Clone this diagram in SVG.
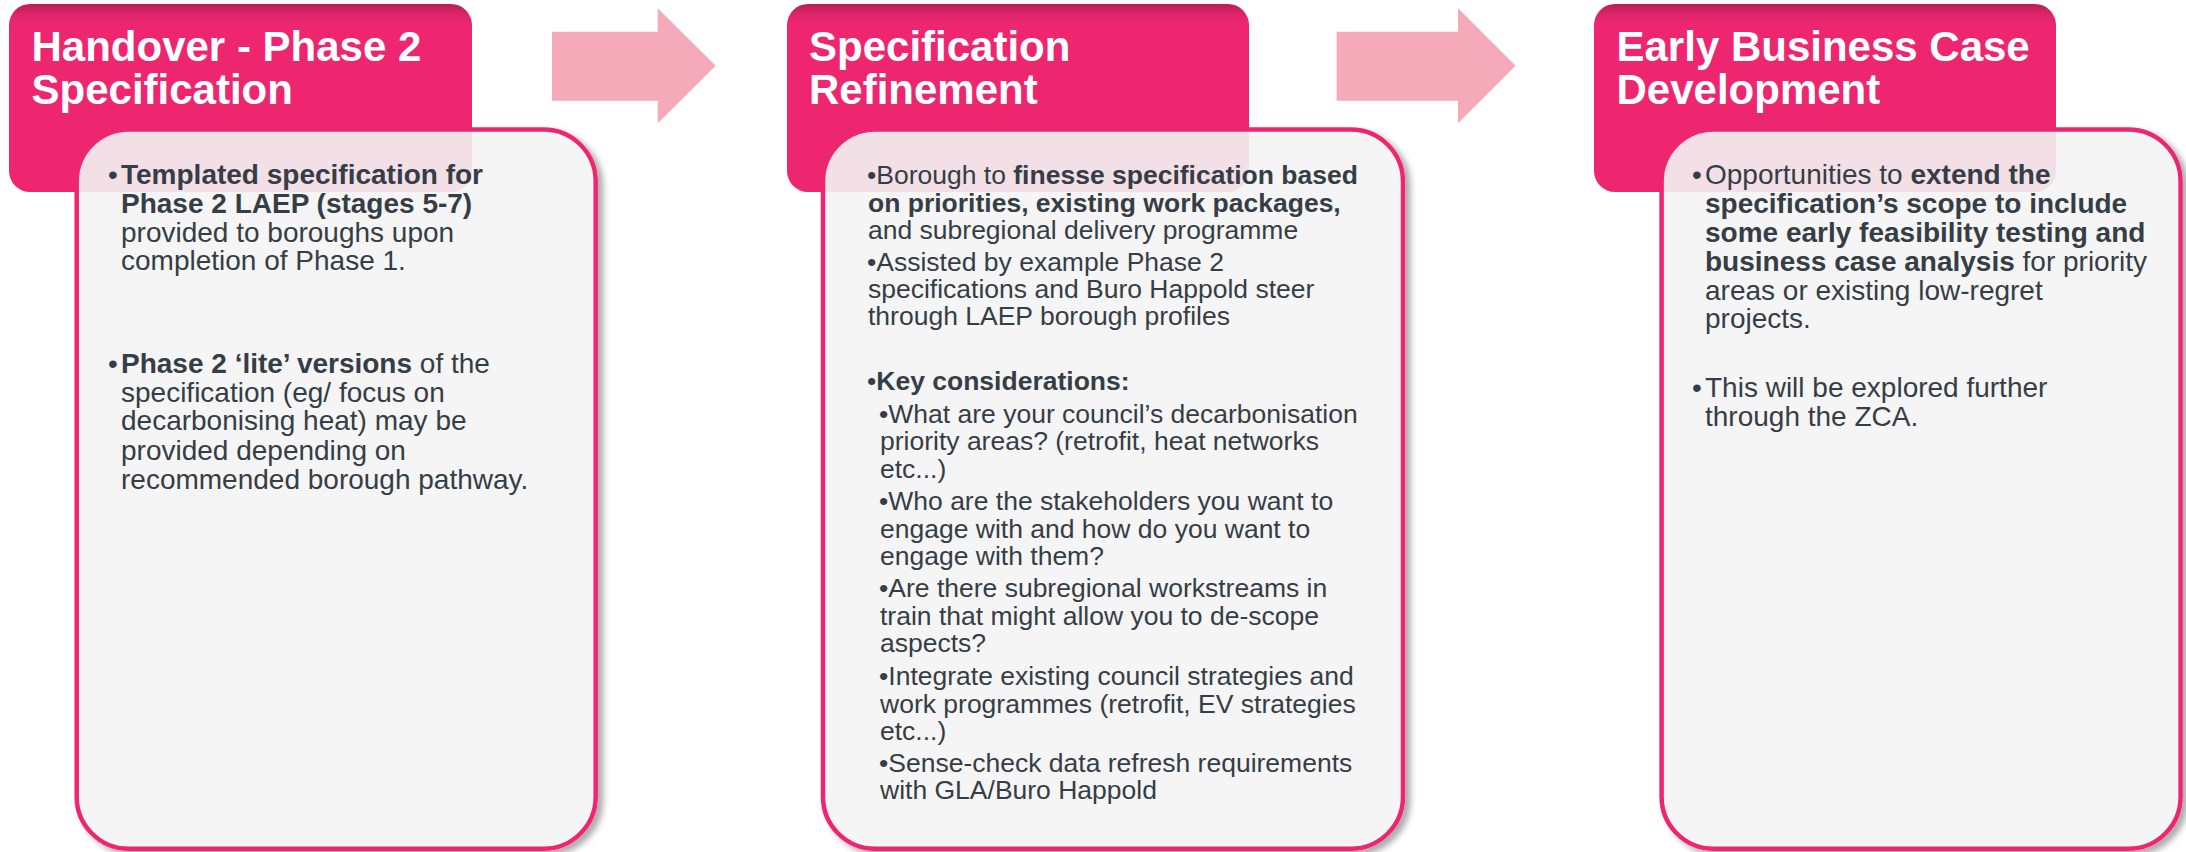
<svg xmlns="http://www.w3.org/2000/svg" width="2186" height="852" viewBox="0 0 2186 852">
<defs>
<linearGradient id="hdrGrad" x1="0" y1="0" x2="0" y2="1">
<stop offset="0" stop-color="#B91D58"/>
<stop offset="0.06" stop-color="#E2246B"/>
<stop offset="0.12" stop-color="#EE2670"/>
<stop offset="1" stop-color="#EE2670"/>
</linearGradient>
<filter id="boxShadow" x="-5%" y="-5%" width="115%" height="115%">
<feGaussianBlur in="SourceAlpha" stdDeviation="3" result="blur"/>
<feOffset in="blur" dx="5" dy="4" result="off"/>
<feFlood flood-color="#000000" flood-opacity="0.35" result="col"/>
<feComposite in="col" in2="off" operator="in" result="sh"/>
<feComposite in="sh" in2="SourceAlpha" operator="out" result="shOut"/>
<feMerge><feMergeNode in="shOut"/><feMergeNode in="SourceGraphic"/></feMerge>
</filter>
<style>
.hdr{fill:url(#hdrGrad);}
.box{fill:#F4F4F4;fill-opacity:0.9;stroke:#EE2670;stroke-width:4.5;}
.arrow{fill:#F4AAB9;}
.title{font-family:"Liberation Sans",Arial,sans-serif;font-weight:bold;font-size:42px;fill:#FFFFFF;}
.body{font-family:"Liberation Sans",Arial,sans-serif;fill:#353D45;}
.s28{font-size:28px;}
.s26{font-size:26.5px;}
.b{font-weight:bold;}
</style>
</defs>

<g id="connectors">
<polygon class="arrow" points="552,31.7 657.7,31.7 657.7,8.3 715.7,65.7 657.7,123.3 657.7,100.7 552,100.7"/>
<polygon class="arrow" points="1336.6,31.7 1458,31.7 1458,8.3 1515.6,65.7 1458,123.3 1458,100.7 1336.6,100.7"/>
</g>

<g id="node-handover">
<rect class="hdr" x="9" y="4" width="463" height="188" rx="21" ry="21"/>
<text class="title"><tspan x="31.5" y="61">Handover - Phase 2</tspan><tspan x="31.5" y="104">Specification</tspan></text>
<rect class="box" x="76.7" y="129.5" width="519" height="719.2" rx="52" ry="52" filter="url(#boxShadow)"/>
<g class="body s28">
<text x="108" y="184">•</text>
<text x="121" y="184" class="b">Templated specification for</text>
<text x="121" y="213" class="b">Phase 2 LAEP (stages 5-7)</text>
<text x="121" y="242">provided to boroughs upon</text>
<text x="121" y="270">completion of Phase 1.</text>
<text x="108" y="373">•</text>
<text x="121" y="373"><tspan class="b">Phase 2 ‘lite’ versions</tspan> of the</text>
<text x="121" y="402">specification (eg/ focus on</text>
<text x="121" y="430">decarbonising heat) may be</text>
<text x="121" y="460">provided depending on</text>
<text x="121" y="489">recommended borough pathway.</text>
</g>
</g>

<g id="node-refinement">
<rect class="hdr" x="787" y="4" width="462" height="188" rx="21" ry="21"/>
<text class="title"><tspan x="809" y="61">Specification</tspan><tspan x="809" y="104">Refinement</tspan></text>
<rect class="box" x="823" y="129.5" width="580" height="719.2" rx="52" ry="52" filter="url(#boxShadow)"/>
<g class="body s26">
<text x="867" y="184">•Borough to <tspan class="b">finesse specification based</tspan></text>
<text x="868" y="212" class="b">on priorities, existing work packages,</text>
<text x="868" y="239">and subregional delivery programme</text>
<text x="867" y="271">•Assisted by example Phase 2</text>
<text x="868" y="298">specifications and Buro Happold steer</text>
<text x="868" y="325">through LAEP borough profiles</text>
<text x="867" y="390">•<tspan class="b">Key considerations:</tspan></text>
<text x="879" y="423">•What are your council’s decarbonisation</text>
<text x="880" y="450">priority areas? (retrofit, heat networks</text>
<text x="880" y="478">etc...)</text>
<text x="879" y="510">•Who are the stakeholders you want to</text>
<text x="880" y="538">engage with and how do you want to</text>
<text x="880" y="565">engage with them?</text>
<text x="879" y="597">•Are there subregional workstreams in</text>
<text x="880" y="625">train that might allow you to de-scope</text>
<text x="880" y="652">aspects?</text>
<text x="879" y="685">•Integrate existing council strategies and</text>
<text x="880" y="713">work programmes (retrofit, EV strategies</text>
<text x="880" y="740">etc...)</text>
<text x="879" y="772">•Sense-check data refresh requirements</text>
<text x="880" y="799">with GLA/Buro Happold</text>
</g>
</g>

<g id="node-business-case">
<rect class="hdr" x="1594" y="4" width="462" height="188" rx="21" ry="21"/>
<text class="title"><tspan x="1616.5" y="61">Early Business Case</tspan><tspan x="1616.5" y="104">Development</tspan></text>
<rect class="box" x="1661.6" y="129.5" width="519" height="719.2" rx="52" ry="52" filter="url(#boxShadow)"/>
<g class="body s28">
<text x="1692" y="184">•</text>
<text x="1705" y="184">Opportunities to <tspan class="b">extend the</tspan></text>
<text x="1705" y="213" class="b">specification’s scope to include</text>
<text x="1705" y="242" class="b">some early feasibility testing and</text>
<text x="1705" y="271"><tspan class="b">business case analysis</tspan> for priority</text>
<text x="1705" y="300">areas or existing low-regret</text>
<text x="1705" y="328">projects.</text>
<text x="1692" y="397">•</text>
<text x="1705" y="397">This will be explored further</text>
<text x="1705" y="426">through the ZCA.</text>
</g>
</g>
</svg>
